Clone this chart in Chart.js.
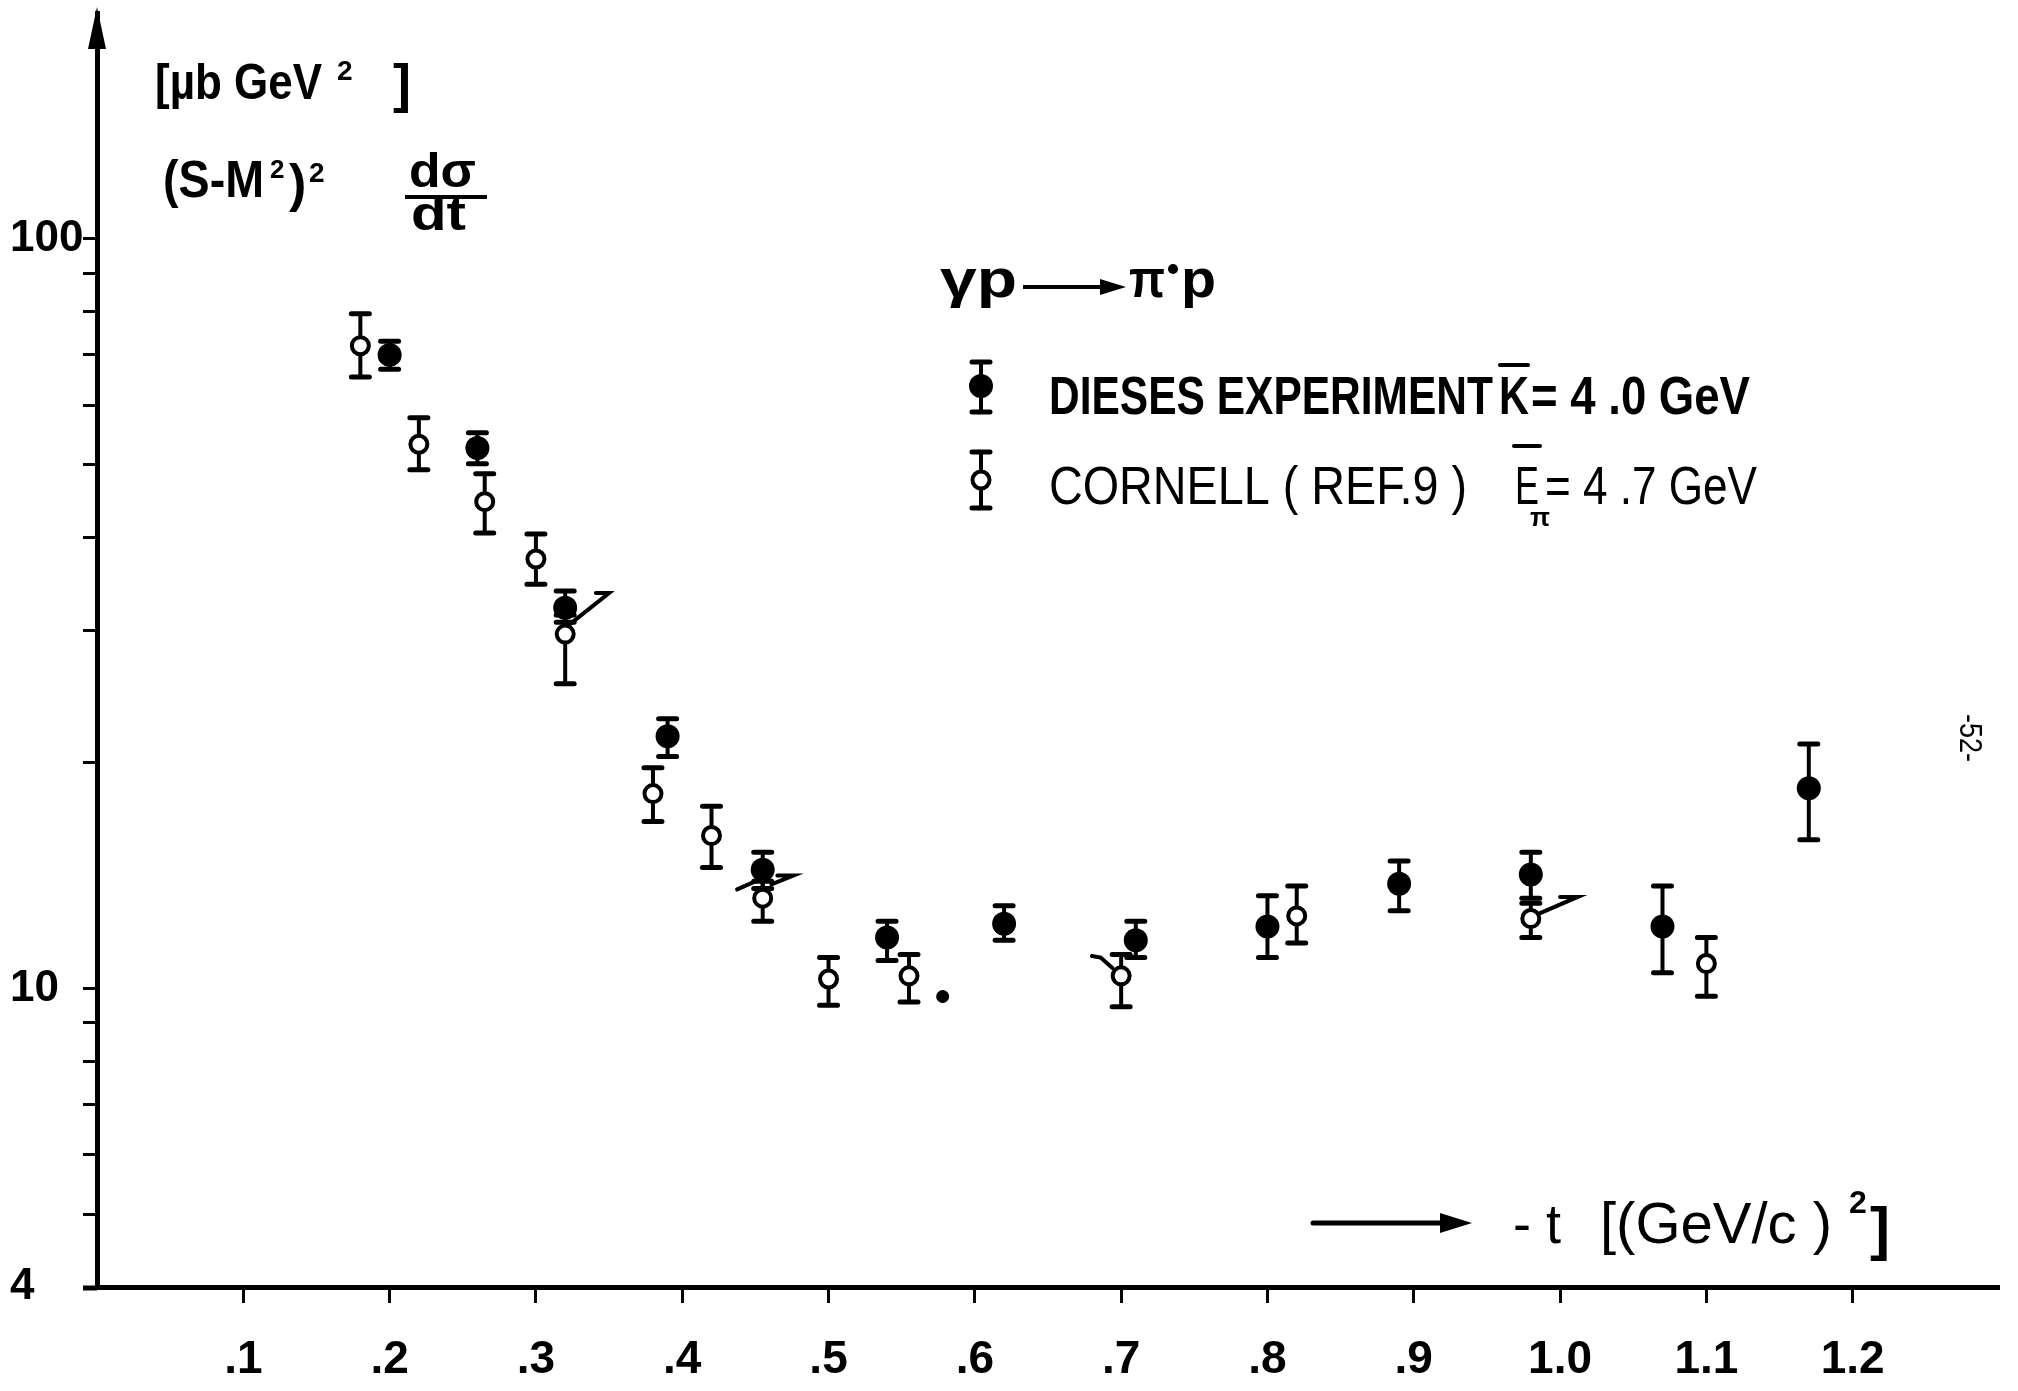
<!DOCTYPE html>
<html>
<head>
<meta charset="utf-8">
<script src="https://cdn.jsdelivr.net/npm/chart.js@4.4.1/dist/chart.umd.min.js"></script>
<style>
  html, body { margin: 0; padding: 0; background: #fff; }
  canvas { display: block; }
</style>
</head>
<body>
<canvas id="chartCanvas" width="2018" height="1391"></canvas>
<script>
// --- values ---
// DIESES EXPERIMENT (filled circles)
const diesesT   = [0.20, 0.26, 0.32, 0.39, 0.455, 0.54, 0.62, 0.71, 0.80, 0.89, 0.98, 1.07, 1.17];
const diesesVal = [70.0, 52.6, 32.2, 21.7, 14.4, 11.7, 12.2, 11.6, 12.1, 13.8, 14.2, 12.1, 18.5];
const diesesHi  = [73.0, 55.1, 33.9, 22.9, 15.2, 12.3, 12.9, 12.3, 13.3, 14.8, 15.2, 13.7, 21.2];
const diesesLo  = [67.0, 50.1, 30.8, 20.4, 13.6, 10.9, 11.6, 11.0, 11.0, 12.7, 13.2, 10.5, 15.8];

// CORNELL (REF.9) (open circles)
const cornellT   = [0.18, 0.22, 0.265, 0.30, 0.32, 0.38, 0.42, 0.455, 0.50, 0.555, 0.70, 0.82, 0.98, 1.10];
const cornellVal = [72.0, 53.2, 44.6, 37.4, 29.7, 18.2, 16.0, 13.2, 10.3, 10.4, 10.4, 12.5, 12.4, 10.8];
const cornellHi  = [79.4, 57.7, 48.6, 40.4, 31.5, 19.7, 17.5, 13.9, 11.0, 11.1, 11.1, 13.7, 13.0, 11.7];
const cornellLo  = [65.4, 49.2, 40.5, 34.6, 25.5, 16.7, 14.5, 12.3, 9.5, 9.6, 9.46, 11.5, 11.7, 9.77];

// stray ink dot in the original
const spotT = [0.578];
const spotVal = [9.76];

// hand-drawn flags next to some points
const flagT = [
  [0.323, 0.350, 0.341],
  [0.4375, 0.450],
  [0.461, 0.476, 0.465],
  [0.680, 0.686, 0.694],
  [0.986, 1.012, 1.000]
];
const flagVal = [
  [30.6, 33.7, 33.7],
  [13.56, 13.9],
  [13.77, 14.15, 14.15],
  [11.05, 11.0, 10.65],
  [12.6, 13.25, 13.25]
];

// axis ticks
const xTickValues = [0.1, 0.2, 0.3, 0.4, 0.5, 0.6, 0.7, 0.8, 0.9, 1.0, 1.1, 1.2];
const xTickLabels = [".1", ".2", ".3", ".4", ".5", ".6", ".7", ".8", ".9", "1.0", "1.1", "1.2"];
const yTickValues = [4, 5, 6, 7, 8, 9, 10, 20, 30, 40, 50, 60, 70, 80, 90, 100];
const yLabelled = { 4: "4", 10: "10", 100: "100" };

const FONT = '"Liberation Sans", "DejaVu Sans", sans-serif';

const pts = (xs, ys) => xs.map((v, i) => ({ x: v, y: ys[i] }));

// --- error bars, drawn under the markers ---
const errorBars = {
  id: "errorBars",
  beforeDatasetsDraw(chart) {
    const { ctx, scales: { x, y } } = chart;
    ctx.save();
    ctx.strokeStyle = "#000";
    ctx.lineCap = "round";
    chart.data.datasets.forEach(ds => {
      if (!ds.errHi) return;
      ds.data.forEach((p, i) => {
        const px = x.getPixelForValue(p.x);
        const top = y.getPixelForValue(ds.errHi[i]);
        const bot = y.getPixelForValue(ds.errLo[i]);
        ctx.lineWidth = 4;
        ctx.beginPath(); ctx.moveTo(px, top); ctx.lineTo(px, bot); ctx.stroke();
        ctx.lineWidth = 5;
        ctx.beginPath();
        ctx.moveTo(px - 9, top); ctx.lineTo(px + 9, top);
        ctx.moveTo(px - 9, bot); ctx.lineTo(px + 9, bot);
        ctx.stroke();
      });
    });
    ctx.restore();
  }
};

// text fitted to a width (the lettering in the original is very condensed)
function fit(ctx, s, x, base, size, w, weight) {
  ctx.font = `${weight || "bold"} ${size}px ${FONT}`;
  const m = ctx.measureText(s).width;
  ctx.save();
  ctx.translate(x, base);
  if (w) ctx.scale(w / m, 1);
  ctx.fillText(s, 0, 0);
  ctx.restore();
}

function marker(ctx, cx, cy, top, bot, filled) {
  ctx.lineCap = "round";
  ctx.lineWidth = 4;
  ctx.beginPath(); ctx.moveTo(cx, top); ctx.lineTo(cx, bot); ctx.stroke();
  ctx.lineWidth = 5;
  ctx.beginPath();
  ctx.moveTo(cx - 9, top); ctx.lineTo(cx + 9, top);
  ctx.moveTo(cx - 9, bot); ctx.lineTo(cx + 9, bot);
  ctx.stroke();
  ctx.beginPath();
  if (filled) {
    ctx.arc(cx, cy, 12, 0, Math.PI * 2);
    ctx.fill();
  } else {
    ctx.arc(cx, cy, 8.5, 0, Math.PI * 2);
    ctx.fillStyle = "#fff"; ctx.fill();
    ctx.lineWidth = 4; ctx.stroke();
    ctx.fillStyle = "#000";
  }
}

// --- annotations: axis arrow, labels, legend ---
const annotations = {
  id: "annotations",
  afterDraw(chart) {
    const { ctx, chartArea: a } = chart;
    ctx.save();
    ctx.fillStyle = "#000";
    ctx.strokeStyle = "#000";
    ctx.textBaseline = "alphabetic";

    // arrow at the top of the y axis, small overhang of the x axis
    ctx.beginPath();
    ctx.moveTo(a.left, a.top - 6);
    ctx.lineTo(a.left - 9, a.top + 36);
    ctx.lineTo(a.left + 9, a.top + 36);
    ctx.closePath();
    ctx.fill();
    ctx.lineWidth = 5;
    ctx.beginPath(); ctx.moveTo(a.left - 14, a.bottom + 1); ctx.lineTo(a.left, a.bottom + 1); ctx.stroke();

    // y axis title
    fit(ctx, "[µb GeV", 155, 99, 50, 167, "bold");
    fit(ctx, "2", 337, 80, 28, 0, "bold");
    fit(ctx, "]", 393, 102, 54, 0, "bold");
    fit(ctx, "(S-M", 163, 197, 52, 101, "bold");
    fit(ctx, "2", 270, 178, 26, 0, "bold");
    fit(ctx, ")", 289, 201, 52, 0, "bold");
    fit(ctx, "2", 309, 182, 28, 0, "bold");
    fit(ctx, "dσ", 409, 187, 48, 67, "bold");
    ctx.lineWidth = 4;
    ctx.beginPath(); ctx.moveTo(405, 197); ctx.lineTo(487, 197); ctx.stroke();
    fit(ctx, "dt", 411, 230, 48, 55, "bold");

    // reaction
    fit(ctx, "γp", 940, 297, 54, 77, "bold");
    ctx.lineWidth = 4;
    ctx.beginPath(); ctx.moveTo(1023, 287); ctx.lineTo(1104, 287); ctx.stroke();
    ctx.beginPath();
    ctx.moveTo(1126, 287); ctx.lineTo(1100, 279); ctx.lineTo(1100, 295); ctx.closePath(); ctx.fill();
    fit(ctx, "π", 1129, 297, 54, 36, "bold");
    ctx.beginPath(); ctx.arc(1173, 269, 5, 0, Math.PI * 2); ctx.fill();
    fit(ctx, "p", 1181, 297, 54, 35, "bold");

    // legend
    marker(ctx, 981, 386, 362, 412, true);
    fit(ctx, "DIESES EXPERIMENT", 1049, 414, 54, 444, "bold");
    fit(ctx, "K", 1499, 414, 54, 30, "bold");
    ctx.lineWidth = 4;
    ctx.beginPath(); ctx.moveTo(1500, 365); ctx.lineTo(1528, 365); ctx.stroke();
    fit(ctx, "= 4 .0 GeV", 1531, 414, 54, 219, "bold");

    marker(ctx, 981, 480, 452, 508, false);
    fit(ctx, "CORNELL ( REF.9 )", 1049, 504, 54, 418, "normal");
    fit(ctx, "E", 1515, 504, 54, 24, "normal");
    ctx.lineWidth = 4;
    ctx.beginPath(); ctx.moveTo(1514, 446); ctx.lineTo(1540, 446); ctx.stroke();
    fit(ctx, "π", 1530, 526, 26, 20, "bold");
    fit(ctx, "= 4 .7 GeV", 1545, 504, 54, 212, "normal");

    // x axis title with arrow
    ctx.lineWidth = 5;
    ctx.beginPath(); ctx.moveTo(1313, 1223); ctx.lineTo(1445, 1223); ctx.stroke();
    ctx.beginPath();
    ctx.moveTo(1472, 1223); ctx.lineTo(1440, 1213); ctx.lineTo(1440, 1233); ctx.closePath(); ctx.fill();
    fit(ctx, "- t", 1513, 1243, 56, 48, "normal");
    fit(ctx, "[(GeV/c )", 1600, 1243, 58, 232, "normal");
    fit(ctx, "2", 1849, 1213, 32, 0, "bold");
    fit(ctx, "]", 1870, 1249, 60, 0, "bold");

    // page number at the right edge
    ctx.save();
    ctx.translate(1960, 714);
    ctx.rotate(Math.PI / 2);
    fit(ctx, "-52-", 0, 0, 32, 48, "normal");
    ctx.restore();

    ctx.restore();
  }
};

const flagSets = flagT.map((xs, i) => ({
  label: "flag" + i,
  data: pts(xs, flagVal[i]),
  showLine: true,
  borderColor: "#000",
  borderWidth: 4,
  pointRadius: 0,
  borderCapStyle: "round",
  fill: false
}));

new Chart(document.getElementById("chartCanvas"), {
  type: "scatter",
  data: {
    datasets: [
      ...flagSets,
      {
        label: "DIESES EXPERIMENT",
        data: pts(diesesT, diesesVal),
        errHi: diesesHi,
        errLo: diesesLo,
        pointRadius: 12,
        pointBackgroundColor: "#000",
        pointBorderWidth: 0,
        pointHoverRadius: 12
      },
      {
        label: "CORNELL (REF.9)",
        data: pts(cornellT, cornellVal),
        errHi: cornellHi,
        errLo: cornellLo,
        pointRadius: 8.5,
        pointBackgroundColor: "#fff",
        pointBorderColor: "#000",
        pointBorderWidth: 4,
        pointHoverRadius: 8.5
      },
      {
        label: "spot",
        data: pts(spotT, spotVal),
        pointRadius: 6.5,
        pointBackgroundColor: "#000",
        pointBorderWidth: 0
      }
    ]
  },
  options: {
    responsive: false,
    animation: false,
    events: [],
    layout: { padding: { left: 10, top: 13, right: 19, bottom: 0 } },
    plugins: { legend: { display: false }, tooltip: { enabled: false } },
    scales: {
      x: {
        type: "linear",
        min: 0,
        max: 1.3,
        border: { display: true, color: "#000", width: 5 },
        grid: { drawOnChartArea: false, drawTicks: true, tickLength: 16, tickWidth: 3, tickColor: "#000" },
        ticks: {
          color: "#000",
          padding: 30,
          font: { family: FONT, size: 46, weight: "bold" },
          callback: v => {
            const i = xTickValues.findIndex(t => Math.abs(t - v) < 1e-6);
            return i >= 0 ? xTickLabels[i] : "";
          }
        },
        afterBuildTicks: s => { s.ticks = xTickValues.map(v => ({ value: v })); },
        afterFit: s => { s.height = 104; s.paddingLeft = 0; s.paddingRight = 0; }
      },
      y: {
        type: "logarithmic",
        min: 4,
        max: 200,
        border: { display: true, color: "#000", width: 5 },
        grid: { drawOnChartArea: false, drawTicks: true, tickLength: 14, tickWidth: 3, tickColor: "#000" },
        ticks: {
          color: "#000",
          crossAlign: "far",
          font: { family: FONT, size: 44, weight: "bold" },
          callback: v => yLabelled[Math.round(v)] || ""
        },
        afterBuildTicks: s => { s.ticks = yTickValues.map(v => ({ value: v })); },
        afterFit: s => { s.width = 87; s.paddingTop = 0; s.paddingBottom = 0; }
      }
    }
  },
  plugins: [errorBars, annotations]
});
</script>
</body>
</html>
